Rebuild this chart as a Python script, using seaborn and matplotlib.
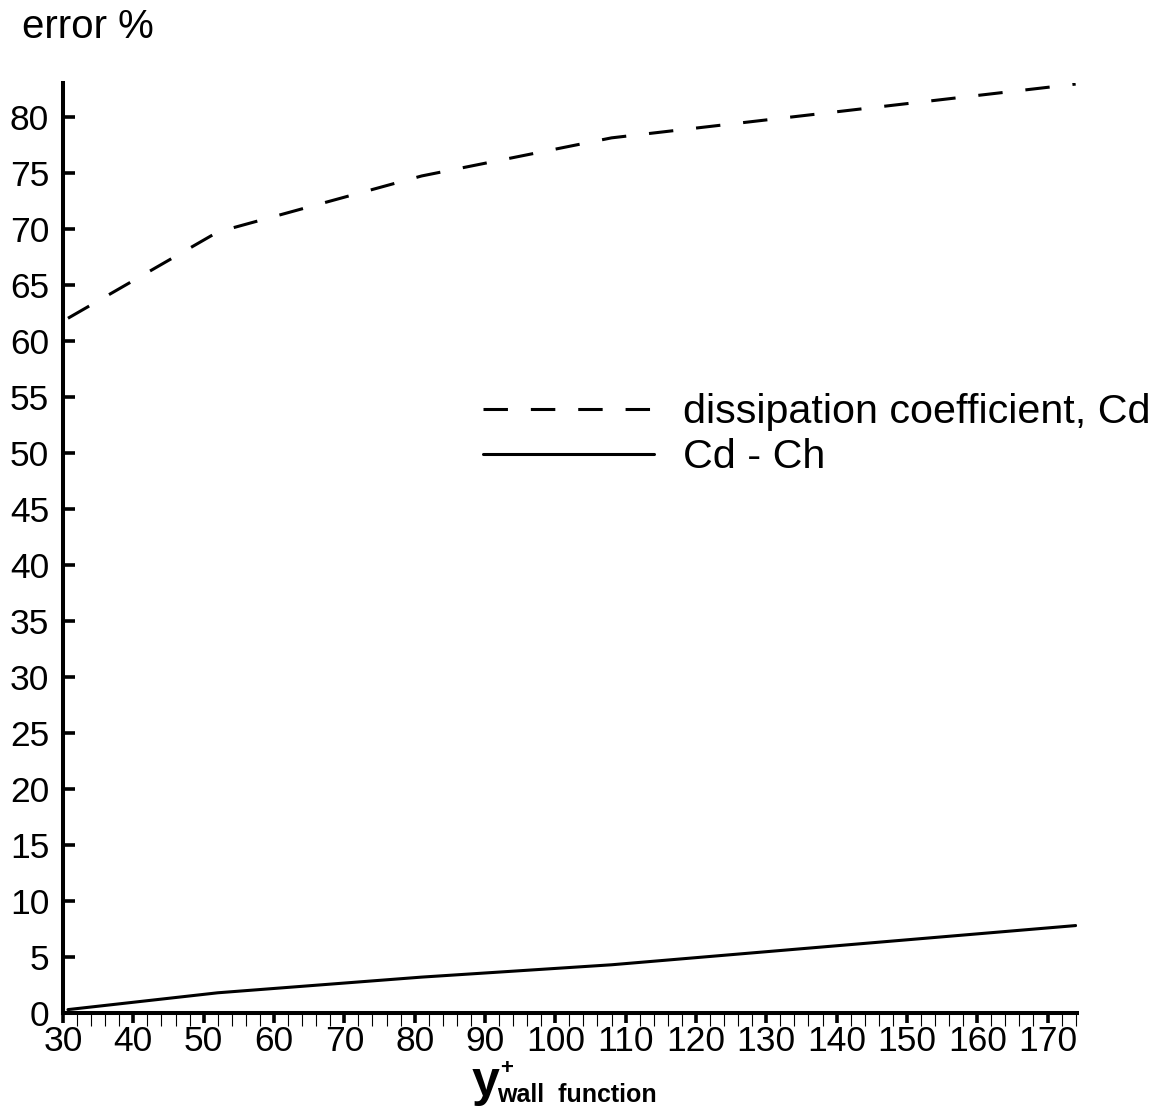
import matplotlib
matplotlib.use("Agg")
import matplotlib.pyplot as plt
from matplotlib.ticker import MultipleLocator
import pandas as pd
import seaborn as sns

# values
y_plus = [30.7, 52, 81, 108, 174]
cd_error = [62.0, 69.7, 74.7, 78.1, 82.9]
cd_ch_error = [0.3, 1.8, 3.2, 4.3, 7.8]
labels = ['dissipation coefficient, Cd', 'Cd - Ch']
x_ticks = list(range(30, 171, 10))
y_ticks = list(range(0, 81, 5))

df = pd.DataFrame({
    'y_plus': y_plus * 2,
    'error': cd_error + cd_ch_error,
    'series': [labels[0]] * len(y_plus) + [labels[1]] * len(y_plus),
})

sns.set_style('ticks')
plt.rcParams['font.family'] = ['Liberation Sans', 'DejaVu Sans']
plt.rcParams['text.color'] = 'black'

fig = plt.figure(figsize=(11.59, 11.09), dpi=100)
ax = fig.add_axes([0.0544, 0.0866, 0.8749, 0.8386])

sns.lineplot(data=df, x='y_plus', y='error', style='series', style_order=labels,
             dashes={labels[0]: (8, 7.5), labels[1]: ''}, color='black',
             linewidth=2.2, ax=ax, legend=False)

ax.set_xlim(30, 174.2)
ax.set_ylim(0, 83)
ax.set_xticks(x_ticks)
ax.set_yticks(y_ticks)
ax.xaxis.set_minor_locator(MultipleLocator(2))
ax.set_xlabel('')
ax.set_ylabel('')

for side in ['top', 'right']:
    ax.spines[side].set_visible(False)
for side in ['left', 'bottom']:
    ax.spines[side].set_linewidth(2.9)
    ax.spines[side].set_color('black')

ax.tick_params(axis='y', which='major', direction='in', length=8.6, width=2.6,
               labelsize=25.5, pad=10, color='black', labelcolor='black')
ax.tick_params(axis='x', which='major', direction='out', length=7.5, width=2.6,
               labelsize=25.5, pad=1, color='black', labelcolor='black')
ax.tick_params(axis='x', which='minor', direction='out', length=9.4, width=0.8,
               color='black')

# legend, no frame
handles = ax.get_lines()[:2]
leg = ax.legend(handles, labels, loc='upper left', frameon=False,
                bbox_to_anchor=(483 / 1159, 1 - 393 / 1109),
                bbox_transform=fig.transFigure, borderaxespad=0, borderpad=0,
                handlelength=4.15, handletextpad=0.7, labelspacing=0.18,
                fontsize=29.7)
for t in leg.get_texts():
    t.set_color('black')

# axis titles
fig.text(22 / 1159, 1 - 27 / 1109, 'error %', fontsize=29, va='center', ha='left')
fig.text(472 / 1159, 1 - 1083 / 1109, 'y', fontsize=36, fontweight='bold',
         va='center', ha='left')
fig.text(500 / 1159, 1 - 1068 / 1109, '+', fontsize=16, fontweight='bold',
         va='center', ha='left')
fig.text(497 / 1159, 1 - 1095 / 1109, 'wall  function', fontsize=18,
         fontweight='bold', va='center', ha='left')

fig.savefig('out.png', dpi=100)
